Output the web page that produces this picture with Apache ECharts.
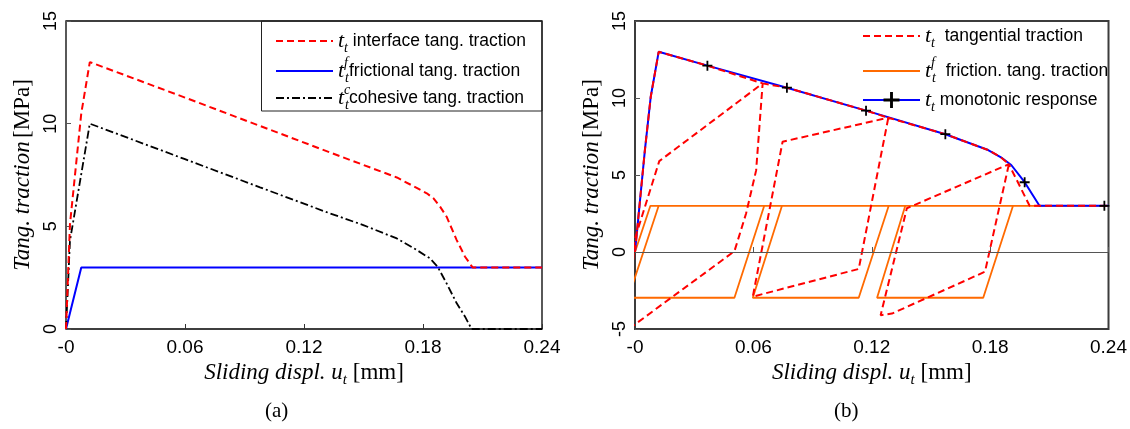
<!DOCTYPE html>
<html><head><meta charset="utf-8">
<script src="https://cdn.jsdelivr.net/npm/echarts@6/dist/echarts.min.js"></script>
<style>html,body{margin:0;padding:0;background:#fff}#c{width:1130px;height:429px}</style>
</head><body><div id="c"></div>
<script>
// ---------------- data ----------------
const xTickLabels = ['-0', '0.06', '0.12', '0.18', '0.24'];
const yTicksA = [0, 5, 10, 15];
const yTicksB = [-5, 0, 5, 10, 15];

// (a) interface tangential traction
const aIntU = [0, 0.002, 0.0077, 0.012, 0.06, 0.0978, 0.1331, 0.1668, 0.1751, 0.1819, 0.1852, 0.1886, 0.1919, 0.197, 0.2012, 0.205, 0.24];
const aIntT = [0, 5.1, 10.5, 13, 11.27, 9.89, 8.6, 7.38, 6.96, 6.61, 6.37, 5.96, 5.47, 4.33, 3.52, 3.0, 3.0];
// (a) frictional tangential traction
const aFrU = [0, 0.0077, 0.24];
const aFrT = [0, 3, 3];
// (a) cohesive tangential traction
const aCohU = [0, 0.002, 0.012, 0.06, 0.0978, 0.1331, 0.1499, 0.1668, 0.1768, 0.1835, 0.1874, 0.1919, 0.197, 0.2012, 0.2045, 0.24];
const aCohT = [0, 4.3, 10, 8.27, 6.9, 5.63, 5.06, 4.41, 3.85, 3.44, 3.03, 2.22, 1.25, 0.6, 0, 0];

// (b) cyclic tangential traction (path order)
const bTanU = [0, 0.005, 0.008, 0.012, 0.0367, 0.0647, 0.0614, 0.0563, 0.0504, -0.0032, -0.0002, 0.0123, 0.0647, 0.077, 0.1171, 0.1284, 0.1134, 0.0597, 0.0748, 0.1284, 0.1573, 0.179, 0.1855, 0.1895, 0.1774, 0.1302, 0.1245, 0.1378, 0.1895, 0.2, 0.24];
const bTanT = [0, 6.6, 10.1, 13, 12.1, 10.95, 5.3, 2.5, 0.05, -5.0, 0.8, 5.9, 10.95, 10.67, 9.18, 8.72, -1.1, -2.9, 7.16, 8.72, 7.65, 6.62, 6.15, 5.7, -1.28, -4.0, -4.1, 2.84, 5.7, 3.0, 3.0];
// (b) friction tangential traction (path order)
const bFrU = [0, 0.0078, 0.0655, 0.0504, -0.0034, 0.012, 0.1286, 0.1134, 0.0597, 0.0745, 0.1916, 0.1765, 0.1227, 0.137, 0.24];
const bFrT = [0, 3, 3, -2.97, -2.97, 3, 3, -2.97, -2.97, 3, 3, -2.97, -2.97, 3, 3];
// (b) monotonic response, markers flag
const bMonoU = [0, 0.005, 0.008, 0.012, 0.0367, 0.077, 0.1171, 0.1573, 0.179, 0.1855, 0.1907, 0.1975, 0.205, 0.2379, 0.24];
const bMonoT = [0, 6.6, 10.1, 13, 12.1, 10.67, 9.18, 7.65, 6.62, 6.15, 5.65, 4.53, 3, 3, 3];
const bMonoMark = [0, 0, 0, 0, 1, 1, 1, 1, 0, 0, 0, 1, 0, 1, 0];

// ---------------- helpers ----------------
const zip = (u, t) => u.map((x, i) => [x, t[i]]);
const plusPath = 'path://M4.1,0H5.9V4.1H10V5.9H5.9V10H4.1V5.9H0V4.1H4.1Z';
const SERIF = 'Liberation Serif';
const SANS = 'Liberation Sans';

const legendRich = {
  m: {fontFamily: SERIF, fontStyle: 'italic', fontSize: 22, color: '#000', verticalAlign: 'middle'},
  sb: {fontFamily: SERIF, fontStyle: 'italic', fontSize: 14, color: '#000', verticalAlign: 'bottom', padding: [0, 0, -3, 0]},
  sp: {fontFamily: SERIF, fontStyle: 'italic', fontSize: 14, color: '#000', verticalAlign: 'top', width: 1, padding: [-4, 0, 0, 0]},
  n: {fontFamily: SANS, fontSize: 17.5, color: '#000'}
};
const legendText = {
  a1: '{m|t}{sb|t}{n| interface tang. traction}',
  a2: '{m|t}{sp|f}{sb|t}{n|frictional tang. traction}',
  a3: '{m|t}{sp|c}{sb|t}{n|cohesive tang. traction}',
  b1: '{m|t}{sb|t}{n|  tangential traction}',
  b2: '{m|t}{sp|f}{sb|t}{n|  friction. tang. traction}',
  b3: '{m|t}{sb|t}{n| monotonic response}'
};
function mkLegend(name, left, centerY, extra) {
  const ih = (extra && extra.itemHeight) || 24;
  return Object.assign({
    data: [name], left: left, top: centerY - ih / 2, orient: 'vertical', padding: 0,
    itemWidth: 57, itemHeight: ih, selectedMode: false,
    itemStyle: {opacity: 0},
    formatter: n => legendText[n],
    textStyle: {fontFamily: SANS, fontSize: 17.5, color: '#000', rich: legendRich}
  }, extra || {});
}

function xAxis(gi, tickColor) {
  return {
    type: 'value', gridIndex: gi, min: 0, max: 0.24, interval: 0.06,
    axisLine: {show: false},
    axisTick: {inside: true, length: 5, lineStyle: {color: tickColor, width: 1}},
    splitLine: {show: false},
    axisLabel: {fontFamily: SANS, fontSize: 19, color: '#000', margin: 9,
      formatter: v => xTickLabels[Math.round(v / 0.06)]},
    name: '{i|Sliding displ. u}{s|t}{r| [mm]}', nameLocation: 'middle', nameGap: 30,
    nameTextStyle: {rich: {
      i: {fontFamily: SERIF, fontStyle: 'italic', fontSize: 23, color: '#000'},
      s: {fontFamily: SERIF, fontStyle: 'italic', fontSize: 15, color: '#000', verticalAlign: 'bottom', padding: [0, 0, -3, 0]},
      r: {fontFamily: SERIF, fontSize: 23, color: '#000'}
    }}
  };
}
function yAxis(gi, min, ticks, tickColor) {
  return {
    type: 'value', gridIndex: gi, min: min, max: 15, interval: 5,
    axisLine: {show: false},
    axisTick: {inside: true, length: 5, lineStyle: {color: tickColor, width: 1}},
    splitLine: {show: false},
    axisLabel: {fontFamily: SANS, fontSize: 18, color: '#000', rotate: 90, margin: 6,
      formatter: v => String(ticks[ticks.indexOf(v)])},
    name: '{i|Tang. traction} {r|[MPa]}', nameLocation: 'middle', nameGap: 32,
    nameTextStyle: {rich: {
      i: {fontFamily: SERIF, fontStyle: 'italic', fontSize: 23, color: '#000'},
      r: {fontFamily: SERIF, fontSize: 23, color: '#000'}
    }}
  };
}

const option = {
  animation: false,
  backgroundColor: '#fff',
  grid: [
    {left: 66, right: 588, top: 21, bottom: 100, show: true, borderColor: '#000', borderWidth: 1.3, backgroundColor: 'transparent'},
    {left: 635, right: 19, top: 21, bottom: 100, show: true, borderColor: '#3c3c3c', borderWidth: 2, backgroundColor: 'transparent'}
  ],
  xAxis: [xAxis(0, '#333'), xAxis(1, '#555')],
  yAxis: [yAxis(0, 0, yTicksA, '#555'), yAxis(1, -5, yTicksB, '#555')],
  legend: [
    mkLegend('a1', 275, 42),
    mkLegend('a2', 275, 68),
    mkLegend('a3', 275, 95),
    mkLegend('b1', 862, 37),
    mkLegend('b2', 862, 68),
    mkLegend('b3', 862, 99, {itemStyle: {}, itemHeight: 20})
  ],
  graphic: [
    {type: 'rect', shape: {x: 261.5, y: 21, width: 280.5, height: 90}, style: {fill: 'none', stroke: '#222', lineWidth: 1}, silent: true, z: 1},
    {type: 'text', left: 265, top: 401, style: {text: '(a)', font: '21px "Liberation Serif"', fill: '#000'}},
    {type: 'text', left: 834, top: 401, style: {text: '(b)', font: '21px "Liberation Serif"', fill: '#000'}}
  ],
  series: [
    {name: 'a2', type: 'line', xAxisIndex: 0, yAxisIndex: 0, data: zip(aFrU, aFrT), symbol: 'none',
      lineStyle: {color: '#0000ff', width: 2}, itemStyle: {color: '#0000ff'}},
    {name: 'a3', type: 'line', xAxisIndex: 0, yAxisIndex: 0, data: zip(aCohU, aCohT), symbol: 'none',
      lineStyle: {color: '#000', width: 1.8, type: [8, 3, 2, 3]}, itemStyle: {color: '#000'}},
    {name: 'a1', type: 'line', xAxisIndex: 0, yAxisIndex: 0, data: zip(aIntU, aIntT), symbol: 'none',
      lineStyle: {color: '#ff0000', width: 2, type: [7, 4]}, itemStyle: {color: '#ff0000'}},

    {name: 'b2', type: 'line', xAxisIndex: 1, yAxisIndex: 1, data: zip(bFrU, bFrT), symbol: 'none', clip: false,
      lineStyle: {color: '#ff6a00', width: 1.8}, itemStyle: {color: '#ff6a00'},
      markLine: {silent: true, symbol: ['none', 'none'], label: {show: false},
        lineStyle: {color: '#555', width: 1.2, type: 'solid'}, data: [{yAxis: 0}]}},
    {name: 'b3', type: 'line', xAxisIndex: 1, yAxisIndex: 1, clip: false,
      data: bMonoU.map((u, i) => bMonoMark[i] ? {value: [u, bMonoT[i]]} : {value: [u, bMonoT[i]], symbol: 'none'}),
      symbol: plusPath, symbolSize: 10, showSymbol: true, showAllSymbol: true,
      lineStyle: {color: '#0000ff', width: 2}, itemStyle: {color: '#000'}},
    {name: 'b1', type: 'line', xAxisIndex: 1, yAxisIndex: 1, data: zip(bTanU, bTanT), symbol: 'none', clip: false,
      lineStyle: {color: '#ff0000', width: 2, type: [7, 4]}, itemStyle: {color: '#ff0000'}}
  ]
};
const chart = echarts.init(document.getElementById('c'), null, {renderer: 'canvas'});
chart.setOption(option);
</script></body></html>
